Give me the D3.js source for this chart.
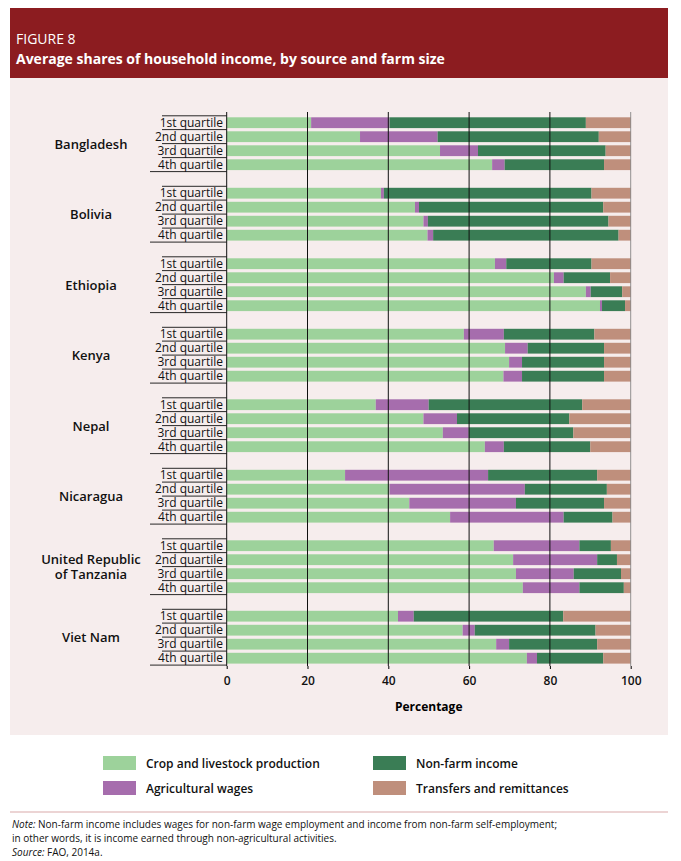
<!DOCTYPE html>
<html><head><meta charset="utf-8">
<script src="https://cdn.jsdelivr.net/npm/d3@7/dist/d3.min.js"></script>
<style>body{margin:0;background:#fff;font-family:"Open Sans","Noto Sans",sans-serif}</style>
</head><body><svg id="c" width="681" height="861"></svg>
<script>
const countries=["Bangladesh","Bolivia","Ethiopia","Kenya","Nepal","Nicaragua","United Republic|of Tanzania","Viet Nam"];
const quartiles=["1st quartile","2nd quartile","3rd quartile","4th quartile"];
const seriesNames=["Crop and livestock production","Agricultural wages","Non-farm income","Transfers and remittances"];
const colors=["#9dd29b","#a66dad","#3a7d55","#bf8f7c"];
const crop=[20.9,33.0,52.8,65.7, 38.2,46.6,48.7,49.7, 66.4,81.0,88.9,92.4, 58.7,68.9,69.9,68.5, 36.9,48.7,53.5,63.9, 29.3,40.3,45.2,55.3, 66.1,70.9,71.6,73.3, 42.4,58.4,66.7,74.3];
const wages=[19.4,19.2,9.4,3.1, 0.7,1.0,1.1,1.4, 2.8,2.4,1.2,0.5, 9.9,5.6,3.2,4.6, 13.1,8.3,6.4,4.7, 35.4,33.5,26.4,28.1, 21.2,20.8,14.3,14.0, 3.9,3.0,3.2,2.5];
const nonfarm=[48.6,39.9,31.6,24.6, 51.4,45.6,44.7,45.9, 21.1,11.5,7.8,5.7, 22.4,18.9,20.3,20.3, 38.0,27.8,25.9,21.4, 27.0,20.3,21.8,12.1, 7.8,4.9,11.7,11.0, 37.0,29.9,21.8,16.4];
const transfers=[11.1,7.9,6.2,6.6, 9.7,6.8,5.5,3.0, 9.7,5.1,2.1,1.4, 9.0,6.6,6.6,6.6, 12.0,15.2,14.2,10.0, 8.3,5.9,6.6,4.5, 4.9,3.4,2.4,1.7, 16.7,8.7,8.3,6.8];
const ticks=[0,20,40,60,80,100];

const svg=d3.select("#c");
svg.append("rect").attr("x",10).attr("y",8).attr("width",658).attr("height",70).attr("fill","#8c1c20");
svg.append("text").attr("x",16).attr("y",44).attr("fill","#fff").attr("font-size",14).text("FIGURE 8");
svg.append("text").attr("x",16).attr("y",64).attr("fill","#fff").attr("font-size",14).attr("font-weight","bold").text("Average shares of household income, by source and farm size");
svg.append("rect").attr("x",10).attr("y",78).attr("width",658).attr("height",657).attr("fill","#f6eded");

const x=d3.scaleLinear().domain([0,100]).range([226.7,630.7]);
const rows=[];
countries.forEach((c,ci)=>quartiles.forEach((q,qi)=>{const i=ci*4+qi;rows.push({ci,qi,vals:[crop[i],wages[i],nonfarm[i],transfers[i]]});}));
const rowY=r=>117.3+r.ci*70.5+r.qi*14;
const bh=10.8;
const g=svg.append("g");
rows.forEach(r=>{let acc=0;r.vals.forEach((v,k)=>{g.append("rect").attr("x",x(acc)).attr("y",rowY(r)).attr("width",x(acc+v)-x(acc)).attr("height",bh).attr("fill",colors[k]);acc+=v;});});
const yTop=112,yBot=666;
ticks.slice(1).forEach(t=>svg.append("line").attr("x1",x(t)).attr("x2",x(t)).attr("y1",yTop).attr("y2",yBot).attr("stroke",t==100?"#777":"#111").attr("stroke-width",t==100?0.8:1));
svg.append("line").attr("x1",x(0)).attr("x2",x(0)).attr("y1",yTop).attr("y2",yBot).attr("stroke","#111");
const ax=svg.append("g").attr("transform",`translate(0,${yBot})`).call(d3.axisBottom(x).tickValues(ticks).tickSize(3).tickFormat(d3.format("d")));
ax.select(".domain").remove();
ax.selectAll("text").attr("font-size",12).attr("font-family","Open Sans").attr("font-weight",600).attr("fill","#111").attr("dy","1.1em");
svg.append("text").attr("x",x(50)).attr("y",711).attr("text-anchor","middle").attr("font-size",12).attr("font-weight","bold").text("Percentage");
rows.forEach(r=>{const y=rowY(r);
 svg.append("text").attr("x",223).attr("y",y+9.5).attr("text-anchor","end").attr("font-size",12).attr("fill","#111").text(quartiles[r.qi]);
 svg.append("line").attr("x1",r.qi==3?150:162).attr("x2",x(0)).attr("y1",y+bh+1.5).attr("y2",y+bh+1.5).attr("stroke","#111").attr("stroke-width",0.9);
 if(r.qi==0) svg.append("line").attr("x1",162).attr("x2",x(0)).attr("y1",y-1.5).attr("y2",y-1.5).attr("stroke","#111").attr("stroke-width",0.9);
});
countries.forEach((c,ci)=>{const parts=c.split("|");const yc=117.3+ci*70.5+27;
 parts.forEach((p,pi)=>svg.append("text").attr("x",91).attr("y",yc+4.5+(pi-(parts.length-1)/2)*15).attr("text-anchor","middle").attr("font-size",13).attr("font-weight",600).attr("fill","#111").text(p));});
const leg=[[103,763,0],[103,788,1],[373,763,2],[373,788,3]];
leg.forEach(([lx,ly,k])=>{svg.append("rect").attr("x",lx).attr("y",ly-7).attr("width",33).attr("height",14).attr("fill",colors[k]);
 svg.append("text").attr("x",lx+43).attr("y",ly+4.5).attr("font-size",12).attr("font-weight",600).attr("fill","#111").text(seriesNames[k]);});
svg.append("line").attr("x1",10).attr("x2",668).attr("y1",812).attr("y2",812).attr("stroke","#d9a9a9").attr("stroke-width",1);
const note=svg.append("g").attr("font-size",10).attr("fill","#111");
const n1=note.append("text").attr("x",12).attr("y",828);
n1.append("tspan").attr("font-style","italic").text("Note: ");
n1.append("tspan").text("Non-farm income includes wages for non-farm wage employment and income from non-farm self-employment;");
note.append("text").attr("x",12).attr("y",842).text("in other words, it is income earned through non-agricultural activities.");
const n3=note.append("text").attr("x",12).attr("y",856);
n3.append("tspan").attr("font-style","italic").text("Source: ");
n3.append("tspan").text("FAO, 2014a.");
</script></body></html>
